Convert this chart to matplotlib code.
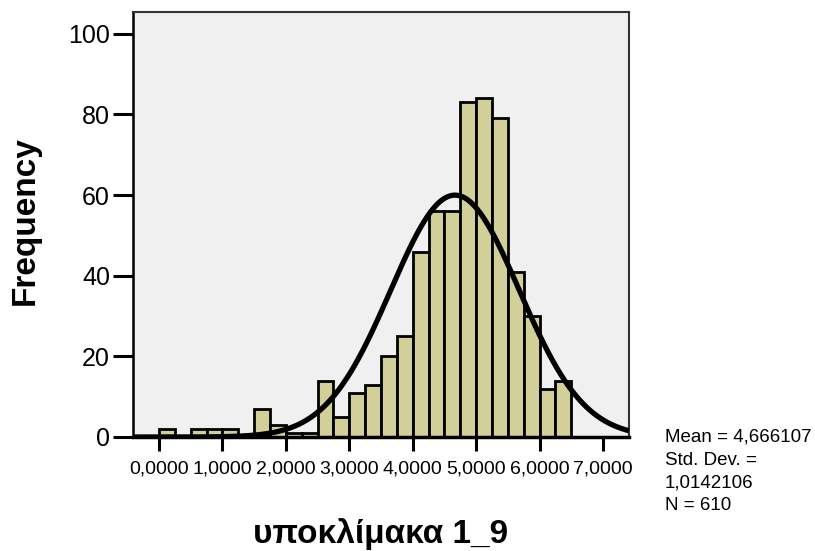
import numpy as np
import matplotlib
matplotlib.use("Agg")
import matplotlib.pyplot as plt

plt.rcParams["font.family"] = ["Liberation Sans", "DejaVu Sans"]

# histogram bins (width 0.25) and counts
bin_left = [0.00, 0.25, 0.50, 0.75, 1.00, 1.25, 1.50, 1.75, 2.00, 2.25,
            2.50, 2.75, 3.00, 3.25, 3.50, 3.75, 4.00, 4.25, 4.50, 4.75,
            5.00, 5.25, 5.50, 5.75, 6.00, 6.25]
counts = [2, 0, 2, 2, 2, 0, 7, 3, 1, 1,
          14, 5, 11, 13, 20, 25, 46, 56, 56, 83,
          84, 79, 41, 30, 12, 14]
bin_width = 0.25

mean = 4.666107
std = 1.0142106
n = 610

x_ticks = [0, 1, 2, 3, 4, 5, 6, 7]
x_ticklabels = ["0,0000", "1,0000", "2,0000", "3,0000", "4,0000", "5,0000", "6,0000", "7,0000"]
y_ticks = [0, 20, 40, 60, 80, 100]

BAR = "#d3cf98"
BG = "#f0f0f0"

fig = plt.figure(figsize=(8.15, 5.51), dpi=100)
ax = fig.add_axes([0.1632, 0.2069, 0.6086, 0.7713])
ax.set_facecolor(BG)

ax.bar(bin_left, counts, width=bin_width, align="edge", color=BAR,
       edgecolor="black", linewidth=2.0, zorder=2)

xs = np.linspace(-0.41, 7.41, 400)
pdf = n * bin_width / (std * np.sqrt(2 * np.pi)) * np.exp(-0.5 * ((xs - mean) / std) ** 2)
ax.plot(xs, pdf, color="black", lw=3.8, zorder=3, solid_capstyle="butt")

ax.set_xlim(-0.41, 7.41)
ax.set_ylim(0, 105.4)
ax.set_xticks(x_ticks)
ax.set_xticklabels(x_ticklabels, fontsize=14)
ax.set_yticks(y_ticks)
ax.set_yticklabels([str(v) for v in y_ticks], fontsize=18)
ax.tick_params(axis="x", length=10, width=2.2, pad=7)
ax.tick_params(axis="y", length=14.5, width=2.2, pad=2)

for side in ["top", "right"]:
    ax.spines[side].set_color("#333333")
    ax.spines[side].set_linewidth(1.5)
ax.spines["left"].set_linewidth(1.8)
ax.spines["bottom"].set_linewidth(2.5)

fig.text(0.031, 0.599, "Frequency", rotation=90, ha="center", va="center",
         fontsize=24, fontweight="bold")
fig.text(0.467, 0.031, "υποκλίμακα 1_9", ha="center", va="center",
         fontsize=24, fontweight="bold")

fig.text(0.816, 0.222, "Mean = 4,666107\nStd. Dev. =\n1,0142106\nN = 610",
         ha="left", va="top", fontsize=13.5, linespacing=1.45)

fig.savefig("out.png", dpi=100)
